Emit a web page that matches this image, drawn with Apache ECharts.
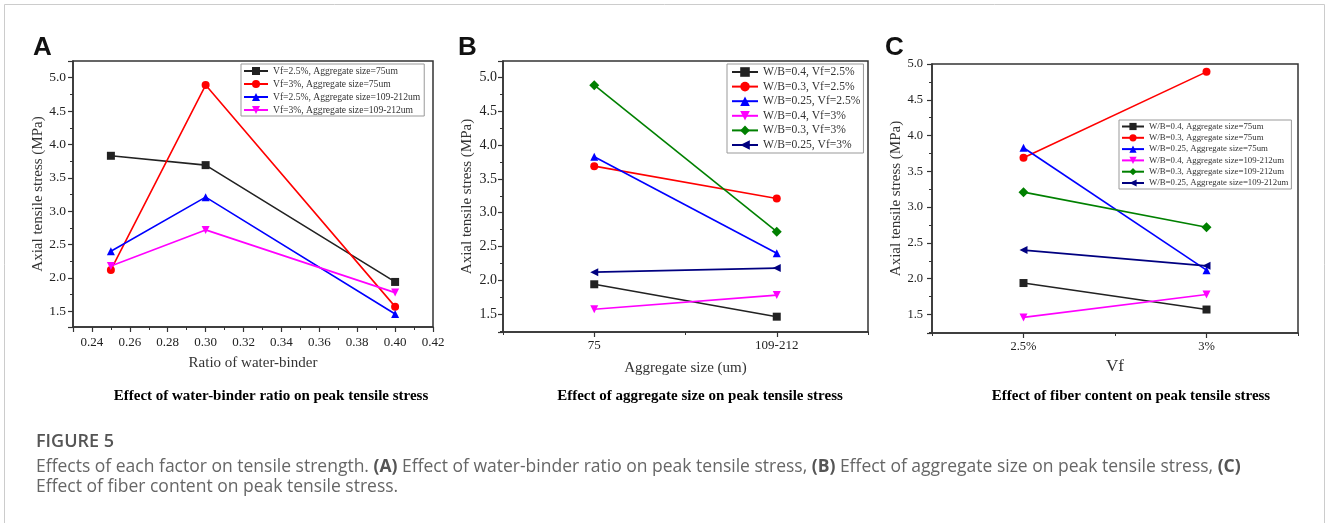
<!DOCTYPE html>
<html>
<head>
<meta charset="utf-8">
<script src="https://cdn.jsdelivr.net/npm/echarts@6/dist/echarts.min.js"></script>
<style>
  html, body { margin: 0; padding: 0; background: #fff; }
  #main { width: 1328px; height: 523px; }
</style>
</head>
<body>
<div id="main"></div>
<script>
// panel A: water-binder ratio
const ratioA = [0.25, 0.30, 0.40]
const namesA = ['Vf=2.5%, Aggregate size=75um', 'Vf=3%, Aggregate size=75um',
  'Vf=2.5%, Aggregate size=109-212um', 'Vf=3%, Aggregate size=109-212um']
const valuesA = [[3.83, 3.69, 1.94], [2.12, 4.89, 1.57], [2.40, 3.21, 1.46], [2.18, 2.72, 1.78]]

// panel B: aggregate size
const sizeB = ['75', '109-212']
const namesB = ['W/B=0.4, Vf=2.5%', 'W/B=0.3, Vf=2.5%', 'W/B=0.25, Vf=2.5%',
  'W/B=0.4, Vf=3%', 'W/B=0.3, Vf=3%', 'W/B=0.25, Vf=3%']
const valuesB = [[1.94, 1.46], [3.69, 3.21], [3.83, 2.40], [1.57, 1.78], [4.89, 2.72], [2.12, 2.18]]

// panel C: fiber content
const vfC = ['2.5%', '3%']
const namesC = ['W/B=0.4, Aggregate size=75um', 'W/B=0.3, Aggregate size=75um', 'W/B=0.25, Aggregate size=75um',
  'W/B=0.4, Aggregate size=109-212um', 'W/B=0.3, Aggregate size=109-212um', 'W/B=0.25, Aggregate size=109-212um']
const valuesC = [[1.94, 1.57], [3.69, 4.89], [3.83, 2.12], [1.46, 1.78], [3.21, 2.72], [2.40, 2.18]]

const colors = ['#222222', '#ff0000', '#0000ff', '#ff00ff', '#008000', '#000080']
const symbols = ['rect', 'circle', 'triangle', 'path://M0,0 L10,0 L5,9 Z', 'diamond', 'path://M9,0 L9,10 L0,5 Z']

const serif = 'Liberation Serif'
const axisColor = '#333'

function halfLabel(v) {
  // only label multiples of 0.5
  return Math.abs(v * 2 - Math.round(v * 2)) < 1e-6 ? v.toFixed(1) : ''
}
function ratioLabel(v) {
  return Math.abs(v * 50 - Math.round(v * 50)) < 1e-6 ? v.toFixed(2) : ''
}

function yAxis(gi, min, max, fontSize, margin, nameGap) {
  return {
    gridIndex: gi, type: 'value', min: min, max: max, splitNumber: 8,
    name: 'Axial tensile stress (MPa)', nameLocation: 'middle', nameGap: nameGap,
    nameTextStyle: { fontFamily: serif, fontSize: 15, color: '#333' },
    axisLine: { show: true, onZero: false, lineStyle: { color: axisColor, width: 1.5 } },
    axisTick: { show: true, length: 5, lineStyle: { color: axisColor, width: 1.2 } },
    minorTick: { show: true, splitNumber: 2, length: 3, lineStyle: { color: axisColor, width: 1 } },
    splitLine: { show: false },
    axisLabel: { formatter: halfLabel, fontFamily: serif, fontSize: fontSize, color: '#222', margin: margin }
  }
}

function catAxis(gi, data, name, nameSize, nameGap, fontSize, margin) {
  return {
    gridIndex: gi, type: 'category', data: data, position: 'bottom',
    name: name, nameLocation: 'middle', nameGap: nameGap,
    nameTextStyle: { fontFamily: serif, fontSize: nameSize, color: '#333' },
    axisLine: { show: true, onZero: false, lineStyle: { color: axisColor, width: 1.5 } },
    axisTick: { show: true, alignWithLabel: true, length: 5, lineStyle: { color: axisColor, width: 1.2 } },
    splitLine: { show: false },
    axisLabel: { fontFamily: serif, fontSize: fontSize, color: '#222', margin: margin }
  }
}

// extra axis only for the short tick between the two categories
function midTickAxis(gi, data) {
  return {
    gridIndex: gi, type: 'category', data: data, position: 'bottom',
    axisLine: { show: false }, axisLabel: { show: false }, splitLine: { show: false },
    axisTick: { show: true, alignWithLabel: false, length: 3, lineStyle: { color: axisColor, width: 1 } }
  }
}

function legend(names, left, top, fontSize, lh, gap, iw, padding) {
  return {
    data: names, left: left, top: top, orient: 'vertical', selectedMode: false,
    itemGap: gap, itemWidth: iw, itemHeight: lh, itemTextGap: 3, padding: padding,
    borderColor: '#999', borderWidth: 1, backgroundColor: '#fff',
    textStyle: { fontFamily: serif, fontSize: fontSize, lineHeight: lh, color: '#333' }
  }
}

const series = []
namesA.forEach((n, i) => {
  series.push({
    name: n, type: 'line', xAxisIndex: 0, yAxisIndex: 0,
    data: ratioA.map((r, j) => [r, valuesA[i][j]]),
    symbol: symbols[i], symbolSize: 8, showAllSymbol: true,
    lineStyle: { color: colors[i], width: 1.6 }, itemStyle: { color: colors[i] }
  })
})
namesB.forEach((n, i) => {
  series.push({
    name: n, type: 'line', xAxisIndex: 1, yAxisIndex: 1, data: valuesB[i],
    symbol: symbols[i], symbolSize: i === 4 ? 10 : 8,
    lineStyle: { color: colors[i], width: 1.6 }, itemStyle: { color: colors[i] }
  })
})
namesC.forEach((n, i) => {
  series.push({
    name: n, type: 'line', xAxisIndex: 2, yAxisIndex: 2, data: valuesC[i],
    symbol: symbols[i], symbolSize: i === 4 ? 10 : 8,
    lineStyle: { color: colors[i], width: 1.6 }, itemStyle: { color: colors[i] }
  })
})

function txt(text, x, y, font, fill, align) {
  return {
    type: 'text', x: x, y: y,
    style: { text: text, font: font, fill: fill, align: align || 'left', verticalAlign: 'middle' }
  }
}

const chart = echarts.init(document.getElementById('main'))
chart.setOption({
  animation: false,
  backgroundColor: '#fff',
  grid: [
    { left: 73, top: 61, width: 360, height: 266, show: true, borderColor: axisColor, borderWidth: 1.5 },
    { left: 503, top: 61, width: 365, height: 271, show: true, borderColor: axisColor, borderWidth: 1.5 },
    { left: 932, top: 64, width: 366, height: 269, show: true, borderColor: axisColor, borderWidth: 1.5 }
  ],
  xAxis: [
    {
      gridIndex: 0, type: 'value', min: 0.23, max: 0.42, splitNumber: 10,
      name: 'Ratio of water-binder', nameLocation: 'middle', nameGap: 29,
      nameTextStyle: { fontFamily: serif, fontSize: 15, color: '#333' },
      axisLine: { show: true, onZero: false, lineStyle: { color: axisColor, width: 1.5 } },
      axisTick: { show: true, length: 5, lineStyle: { color: axisColor, width: 1.2 } },
      minorTick: { show: true, splitNumber: 2, length: 3, lineStyle: { color: axisColor, width: 1 } },
      splitLine: { show: false },
      axisLabel: { formatter: ratioLabel, fontFamily: serif, fontSize: 13, color: '#222', margin: 9 }
    },
    catAxis(1, sizeB, 'Aggregate size (um)', 15, 29, 13, 7),
    catAxis(2, vfC, 'Vf', 17, 24, 12.5, 7),
    midTickAxis(1, sizeB),
    midTickAxis(2, vfC)
  ],
  yAxis: [
    yAxis(0, 1.265, 5.25, 13.5, 7, 26),
    yAxis(1, 1.233, 5.248, 14, 6, 28),
    yAxis(2, 1.242, 5.0, 12.5, 9, 27)
  ],
  legend: [
    legend(namesA, 241, 64, 9.6, 10, 3, 24, [2, 4, 1, 2]),
    legend(namesB, 727, 64, 11.6, 12, 2.6, 26, [2, 3, 2, 4]),
    legend(namesC, 1119, 120, 8.8, 9, 2.3, 22, [2, 3, 1.5, 2])
  ],
  series: series,
  graphic: [
    {
      type: 'rect', z: -10, shape: { x: 4.5, y: 4.5, width: 1320, height: 540 },
      style: { fill: 'none', stroke: '#cccccc', lineWidth: 1 }
    },
    txt('A', 33, 48, 'bold 26px "Liberation Sans"', '#111'),
    txt('B', 458, 48, 'bold 26px "Liberation Sans"', '#111'),
    txt('C', 885, 48, 'bold 26px "Liberation Sans"', '#111'),
    txt('Effect of water-binder ratio on peak tensile stress', 271, 396, 'bold 15px "Liberation Serif"', '#000', 'center'),
    txt('Effect of aggregate size on peak tensile stress', 700, 396, 'bold 15px "Liberation Serif"', '#000', 'center'),
    txt('Effect of fiber content on peak tensile stress', 1131, 396, 'bold 15px "Liberation Serif"', '#000', 'center'),
    txt('FIGURE 5', 36, 442, '600 18px "Open Sans"', '#555'),
    {
      type: 'text', x: 36, y: 467,
      style: {
        text: 'Effects of each factor on tensile strength. {b|(A)} Effect of water-binder ratio on peak tensile stress, {b|(B)} Effect of aggregate size on peak tensile stress, {b|(C)}',
        font: '17.5px "Open Sans"', fill: '#666', verticalAlign: 'middle',
        rich: { b: { fontWeight: 'bold', fontFamily: 'Open Sans', fontSize: 17.5, fill: '#555' } }
      }
    },
    txt('Effect of fiber content on peak tensile stress.', 36, 487, '17.5px "Open Sans"', '#666')
  ]
})
</script>
</body>
</html>
